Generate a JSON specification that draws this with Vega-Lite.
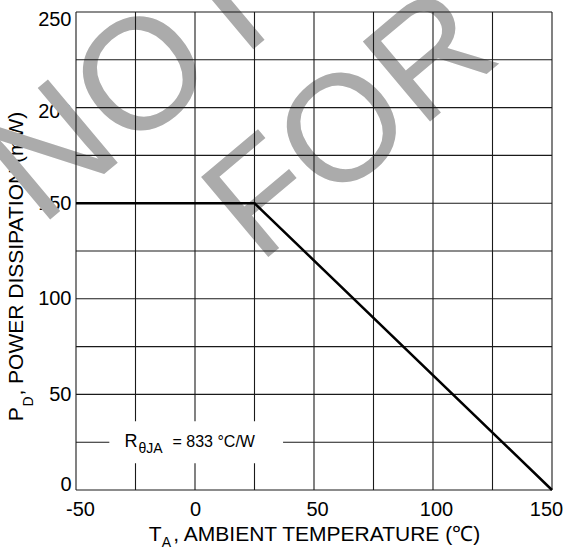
{
  "$schema": "https://vega.github.io/schema/vega-lite/v6.json",
  "width": 476,
  "height": 478,
  "autosize": {"type": "none"},
  "padding": {"left": 76, "top": 12, "right": 14, "bottom": 58},
  "config": {
    "view": {"stroke": null},
    "font": "Liberation Sans",
    "axis": {
      "grid": false,
      "ticks": false,
      "domain": false,
      "labelFlush": false,
      "labelFontSize": 20,
      "labelColor": "#000000",
      "titleFontSize": 21,
      "titleFontWeight": "normal",
      "titleColor": "#000000",
      "labelFont": "Liberation Sans",
      "titleFont": "Liberation Sans"
    }
  },
  "layer": [
    {
      "data": {"values": [{"word": "NOT"}]},
      "mark": {"type": "text", "fontSize": 158, "color": "#ababab", "angle": 320, "align": "center", "baseline": "middle", "font": "Liberation Sans"},
      "encoding": {
        "x": {"datum": -24, "type": "quantitative", "scale": {"domain": [-50, 150], "nice": false, "zero": false}},
        "y": {"datum": 212, "type": "quantitative", "scale": {"domain": [0, 250], "nice": false, "zero": false}},
        "text": {"field": "word"}
      }
    },
    {
      "data": {"values": [{"word": "FOR"}]},
      "mark": {"type": "text", "fontSize": 152, "color": "#ababab", "angle": 320, "align": "center", "baseline": "middle", "font": "Liberation Sans"},
      "encoding": {
        "x": {"datum": 66, "type": "quantitative"},
        "y": {"datum": 190, "type": "quantitative"},
        "text": {"field": "word"}
      }
    },
    {
      "data": {"values": [{"temp": -50}, {"temp": -25}, {"temp": 0}, {"temp": 25}, {"temp": 50}, {"temp": 75}, {"temp": 100}, {"temp": 125}, {"temp": 150}]},
      "mark": {"type": "rule", "color": "#1a1a1a", "strokeWidth": 1.1},
      "encoding": {
        "x": {
          "field": "temp",
          "type": "quantitative",
          "title": "T\u00a0\u00a0, AMBIENT TEMPERATURE (\u2103)",
          "axis": {
            "values": [-50, 0, 50, 100, 150],
            "labelExpr": "'' + datum.value",
            "labelPadding": 9,
            "titlePadding": 4,
            "labelOffset": {"condition": [{"test": "datum.value == -50", "value": 4}, {"test": "datum.value == 150", "value": -6}, {"test": "datum.value > 0", "value": 3}], "value": 0}
          }
        }
      }
    },
    {
      "data": {"values": [{"power": 0}, {"power": 25}, {"power": 50}, {"power": 75}, {"power": 100}, {"power": 125}, {"power": 150}, {"power": 175}, {"power": 200}, {"power": 225}, {"power": 250}]},
      "mark": {"type": "rule", "color": "#1a1a1a", "strokeWidth": 1.1},
      "encoding": {
        "y": {
          "field": "power",
          "type": "quantitative",
          "title": "P\u00a0\u00a0, POWER DISSIPATION (mW)",
          "axis": {
            "values": [0, 50, 100, 150, 200, 250],
            "labelPadding": 5,
            "titlePadding": 11,
            "titleY": 254,
            "labelOffset": {"condition": [{"test": "datum.value == 250", "value": 7}, {"test": "datum.value == 200", "value": 4}, {"test": "datum.value == 0", "value": -6}], "value": 0}
          }
        }
      }
    },
    {
      "data": {"values": [{"box": "annotation"}]},
      "mark": {"type": "rect", "fill": "#ffffff"},
      "encoding": {
        "x": {"datum": -36, "type": "quantitative"},
        "x2": {"datum": 37},
        "y": {"datum": 14, "type": "quantitative"},
        "y2": {"datum": 36}
      }
    },
    {
      "data": {"values": [{"r": "R", "sub": "\u03b8JA", "rest": "= 833 \u00b0C/W"}]},
      "layer": [
        {
          "mark": {"type": "text", "fontSize": 18, "align": "left", "baseline": "alphabetic", "dx": -11, "dy": 5, "color": "#000000"},
          "encoding": {"x": {"datum": -25, "type": "quantitative"}, "y": {"datum": 25, "type": "quantitative"}, "text": {"field": "r"}}
        },
        {
          "mark": {"type": "text", "fontSize": 14, "align": "left", "baseline": "alphabetic", "dx": 3, "dy": 11, "color": "#000000"},
          "encoding": {"x": {"datum": -25, "type": "quantitative"}, "y": {"datum": 25, "type": "quantitative"}, "text": {"field": "sub"}}
        },
        {
          "mark": {"type": "text", "fontSize": 16, "align": "left", "baseline": "alphabetic", "dx": 37, "dy": 5, "color": "#000000"},
          "encoding": {"x": {"datum": -25, "type": "quantitative"}, "y": {"datum": 25, "type": "quantitative"}, "text": {"field": "rest"}}
        }
      ]
    },
    {
      "data": {"values": [{"temp": -50, "power": 150}, {"temp": 25, "power": 150}, {"temp": 150, "power": 0}]},
      "mark": {"type": "line", "color": "#000000", "strokeWidth": 2.5, "clip": false},
      "encoding": {
        "x": {"field": "temp", "type": "quantitative"},
        "y": {"field": "power", "type": "quantitative"}
      }
    },
    {
      "data": {"values": [{"sub": "A"}]},
      "mark": {"type": "text", "fontSize": 14, "align": "left", "baseline": "alphabetic", "dy": 57, "color": "#000000"},
      "encoding": {"x": {"datum": -14, "type": "quantitative"}, "y": {"datum": 0, "type": "quantitative"}, "text": {"field": "sub"}}
    },
    {
      "data": {"values": [{"sub": "D"}]},
      "mark": {"type": "text", "fontSize": 14, "align": "left", "baseline": "alphabetic", "angle": 270, "dx": -12, "dy": -43, "color": "#000000"},
      "encoding": {"x": {"datum": -50, "type": "quantitative"}, "y": {"datum": 50, "type": "quantitative"}, "text": {"field": "sub"}}
    }
  ]
}
